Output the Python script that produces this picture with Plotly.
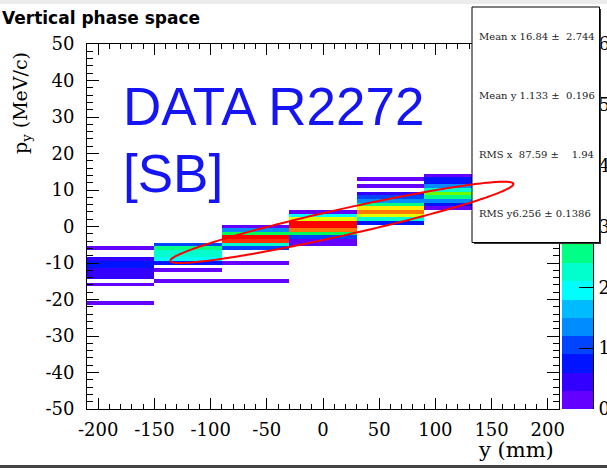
import colorsys
import numpy as np
import plotly.graph_objects as go

# ---- histogram binning -------------------------------------------------
# y (mm) bin edges: 7 bins of 60 mm
y_edges = [-210, -150, -90, -30, 30, 90, 150, 210]
# p_y (MeV/c) bins are 1 MeV/c wide, centred on integers in this range
py_low, py_high = -23, 15

# bin contents of each y column, keyed by the p_y bin centre (MeV/c)
col_1 = {-6: 0.15, -9: 0.45, -10: 0.75, -11: 0.75, -12: 0.45, -13: 0.45,
         -14: 0.45, -16: 0.15, -21: 0.15}
col_2 = {-5: 1.05, -6: 2.55, -7: 2.25, -8: 2.25, -9: 1.95, -10: 0.75,
         -12: 0.15, -15: 0.15}
col_3 = {0: 0.15, -1: 1.35, -2: 2.85, -3: 5.85, -4: 5.55, -5: 2.25,
         -6: 1.05, -10: 0.15, -15: 0.15}
col_4 = {4: 0.15, 3: 2.05, 2: 4.35, 1: 5.85, 0: 5.85, -1: 5.25, -2: 2.7,
         -3: 1.05, -4: 0.15, -5: 0.15}
col_5 = {13: 0.15, 11: 0.15, 9: 0.45, 8: 1.05, 7: 1.35, 6: 2.55, 5: 4.65,
         4: 5.25, 3: 4.35, 2: 2.25, 1: 0.75}
col_6 = {14: 0.15, 13: 0.75, 12: 0.75, 11: 1.35, 10: 2.25, 9: 3.6, 8: 2.55,
         7: 1.35, 6: 0.75, 5: 0.15}
col_7 = {}
columns = [col_1, col_2, col_3, col_4, col_5, col_6, col_7]

# axis tick labels
x_ticks = [-200, -150, -100, -50, 0, 50, 100, 150, 200]
y_ticks = [-50, -40, -30, -20, -10, 0, 10, 20, 30, 40, 50]
z_ticks = [0, 1, 2, 3, 4, 5, 6]

# fitted phase-space ellipse
ell_center = (16.84, 1.133)
ell_major = (152.6, 10.5)     # half-axis vector (mm, MeV/c)
ell_half_height = 3.7         # half-thickness in p_y at the centre

# statistics box
stats_lines = ["Mean x\u00a016.84 \u00b1 \u00a02.744",
               "Mean y\u00a01.133 \u00b1 \u00a00.196",
               "RMS x \u00a087.59 \u00b1 \u00a0\u00a0\u00a01.94",
               "RMS y6.256 \u00b1 0.1386"]

# ---- build z matrix ----------------------------------------------------
py_edges = [c - 0.5 for c in range(py_low, py_high + 2)]
z = [[None] * len(columns) for _ in range(py_high - py_low + 1)]
for j, col in enumerate(columns):
    for centre, val in col.items():
        z[centre - py_low][j] = val

# ---- 20-level violet->red palette --------------------------------------
n_levels, z_max = 20, 6.0
colorscale = []
for j in range(n_levels):
    idx = int((j + 0.99) * 50 / n_levels)
    hue = 0.0 if idx >= 49 else 280.0 - (idx + 1) * 5.6
    r, g, b = colorsys.hls_to_rgb(hue / 360.0, 0.5, 1.0)
    c = "rgb(%d,%d,%d)" % (round(r * 255), round(g * 255), round(b * 255))
    colorscale.append([j / n_levels, c])
    colorscale.append([(j + 1) / n_levels, c])

# palette strip: one cell per contour level
dz = z_max / n_levels
pal_edges = [k * dz for k in range(n_levels + 1)]
pal_z = [[(k + 0.5) * dz] for k in range(n_levels)]

# ---- geometry helpers (pixels -> paper) --------------------------------
W, H = 607, 476
L, R, T, B = 87, 14, 44, 67
pw, ph = W - L - R, H - T - B
frame_right, pal_left = 559, 562


def px(xp):
    return (xp - L) / pw


def py(yp):
    return (H - B - yp) / ph


def lbl(v):
    return str(v)  # plain hyphen for negative numbers


serif = "DejaVu Serif"

fig = go.Figure()
fig.add_trace(go.Heatmap(
    x=y_edges, y=py_edges, z=z, zmin=0, zmax=z_max,
    colorscale=colorscale, zsmooth=False, hoverinfo="skip",
    showscale=False, xaxis="x", yaxis="y",
))
# colour palette axis
fig.add_trace(go.Heatmap(
    x=[0, 1], y=pal_edges, z=pal_z, zmin=0, zmax=z_max,
    colorscale=colorscale, zsmooth=False, hoverinfo="skip",
    showscale=False, xaxis="x2", yaxis="y2",
))

t = np.linspace(0, 2 * np.pi, 241)
ex = ell_center[0] + ell_major[0] * np.cos(t)
ey = ell_center[1] + ell_major[1] * np.cos(t) + ell_half_height * np.sin(t)
ell_path = "M " + " L ".join("%.3f,%.4f" % (a, b) for a, b in zip(ex, ey)) + " Z"

axis_common = dict(
    showgrid=False, zeroline=False, showline=True, linecolor="black",
    linewidth=1, mirror="ticks", ticks="inside", tickcolor="black",
    tickfont=dict(family=serif, size=18, color="black"),
)

fig.update_layout(
    xaxis=dict(domain=[0, px(frame_right)], range=[-210, 210],
               tickvals=x_ticks, ticktext=[lbl(v) for v in x_ticks],
               ticklen=11, ticklabelstandoff=4,
               minor=dict(ticks="inside", dtick=10, ticklen=5,
                          tickcolor="black"),
               **axis_common),
    yaxis=dict(range=[-50, 50], tickvals=y_ticks,
               ticktext=[lbl(v) for v in y_ticks], ticklen=12,
               ticklabelstandoff=8,
               minor=dict(ticks="inside", dtick=2, ticklen=6,
                          tickcolor="black"),
               **axis_common),
    xaxis2=dict(domain=[px(pal_left), 1], range=[0, 1], visible=False,
                anchor="y2"),
    yaxis2=dict(domain=[0, 1], range=[0, z_max], anchor="x2", side="right",
                tickvals=z_ticks, ticktext=[lbl(v) for v in z_ticks],
                ticks="inside", ticklen=14, tickcolor="black",
                showline=True, linecolor="black", linewidth=1,
                showgrid=False, zeroline=False, ticklabelstandoff=1,
                tickfont=dict(family=serif, size=18, color="black")),
)

ann = []
# title
ann.append(dict(x=px(0), y=py(18), xref="paper", yref="paper",
                xanchor="left", yanchor="middle", showarrow=False,
                text="<b>Vertical phase space</b>",
                font=dict(family="DejaVu Sans", size=17, color="black")))
# axis titles
ann.append(dict(x=px(21), y=py(103), xref="paper", yref="paper",
                xanchor="center", yanchor="middle", showarrow=False,
                textangle=-90, text="p<sub>y</sub> (MeV/c)",
                font=dict(family=serif, size=19, color="black")))
ann.append(dict(x=px(556), y=py(450), xref="paper", yref="paper",
                xanchor="right", yanchor="middle", showarrow=False,
                text="y (mm)", font=dict(family=serif, size=21, color="black")))
# run label
ann.append(dict(x=px(121), y=py(107), xref="paper", yref="paper",
                xanchor="left", yanchor="middle", showarrow=False,
                text="DATA R2272",
                font=dict(family="Liberation Sans", size=53, color="#1414f5")))
ann.append(dict(x=px(121), y=py(173), xref="paper", yref="paper",
                xanchor="left", yanchor="middle", showarrow=False,
                text="[SB]",
                font=dict(family="Liberation Sans", size=53, color="#1414f5")))
# statistics text
for k, line in enumerate(stats_lines):
    ann.append(dict(x=px(477), y=py(36 + k * 59), xref="paper",
                    yref="paper", xanchor="left", yanchor="middle",
                    showarrow=False, text=line,
                    font=dict(family=serif, size=10, color="#222222")))

shapes = [
    # window bands
    dict(type="rect", xref="paper", yref="paper", x0=px(0), x1=px(W),
         y0=py(4), y1=py(0), fillcolor="#ececec", line=dict(width=0),
         layer="below"),
    dict(type="rect", xref="paper", yref="paper", x0=px(0), x1=px(W),
         y0=py(468), y1=py(465), fillcolor="#444444", line=dict(width=0),
         layer="below"),
    # statistics box with its shadow
    dict(type="rect", xref="paper", yref="paper", x0=px(474), x1=px(601),
         y0=py(244), y1=py(9), fillcolor="#333333", line=dict(width=0),
         layer="above"),
    dict(type="rect", xref="paper", yref="paper", x0=px(472), x1=px(599.5),
         y0=py(242.5), y1=py(7), fillcolor="white",
         line=dict(color="black", width=1), layer="above"),
    # ellipse on top of everything in the frame
    dict(type="path", xref="x", yref="y", path=ell_path,
         line=dict(color="#ff0000", width=2), layer="above"),
]

fig.update_layout(
    width=W, height=H,
    margin=dict(l=L, r=R, t=T, b=B, autoexpand=False),
    paper_bgcolor="white", plot_bgcolor="white",
    showlegend=False, annotations=ann, shapes=shapes,
)

fig.write_html("out.html")
